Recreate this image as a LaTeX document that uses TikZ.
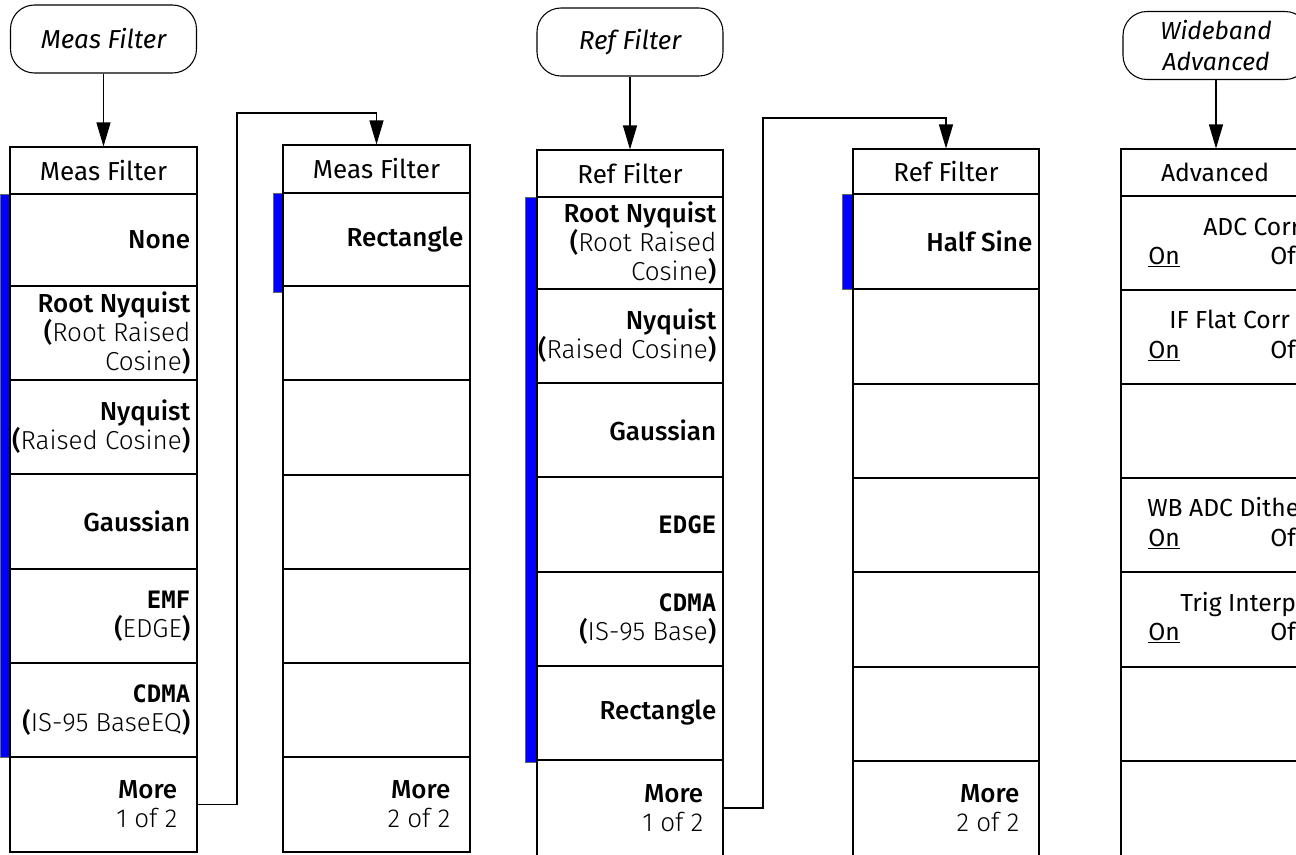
\documentclass[tikz,border=0pt]{standalone}
\usepackage{fontspec}
\setmainfont{Fira Sans}
\newfontfamily\fsl{Fira Sans Light}
\newfontfamily\fsm{Fira Sans Medium}
\newfontfamily\fmono{DejaVu Sans Mono}
\usetikzlibrary{arrows.meta,fit}

\newcommand\ltxt[1]{{\fsl #1}}
\newcommand\mtxt[1]{{\fmono\bfseries\fontsize{18}{21.75}\selectfont #1}}
\newcommand\mkbox[5]{\node[keybox, fit={(#2,#3)(#4,#5)}] (#1) {};}

\tikzset{
  keybox/.style={draw=black, line width=0.8pt, inner sep=0pt},
  bluebar/.style={draw=black!60, line width=0.5pt, fill=blue},
  term/.style={draw=black, line width=0.8pt, rounded corners=18pt, inner sep=0pt,
               minimum width=139.5pt, minimum height=51pt, align=center},
  lbl/.style={font=\fsm\fontsize{19.5}{21.75}\selectfont, align=right, inner sep=0pt},
  ttl/.style={font=\fontsize{19.5}{21.75}\selectfont, inner sep=0pt},
  albl/.style={font=\fontsize{18.5}{21.75}\selectfont, inner sep=0pt},
  conn/.style={line width=0.8pt},
  arr/.style={conn, -{Triangle[length=18pt,width=10.5pt]}},
}

\begin{document}
\begin{tikzpicture}[x=0.75pt,y=-0.75pt]
\useasboundingbox (0,0) rectangle (1296,854);
\clip (0,0) rectangle (1296,854);

% blue selection bars
\draw[bluebar] (0,194) rectangle (10,757);
\draw[bluebar] (273,193) rectangle (283,292);
\draw[bluebar] (525,197) rectangle (537,762);
\draw[bluebar] (842,194) rectangle (853,289);

% ---------- column 1 : Meas Filter 1 of 2
\node[term, font=\itshape\fontsize{19.5}{21.75}\selectfont] (mf) at (103.5,39) {Meas Filter};
\mkbox{m1t}{10}{147}{197}{194}
\mkbox{m1a}{10}{194}{197}{286}
\mkbox{m1b}{10}{286}{197}{380}
\mkbox{m1c}{10}{380}{197}{474}
\mkbox{m1d}{10}{474}{197}{569}
\mkbox{m1e}{10}{569}{197}{663}
\mkbox{m1f}{10}{663}{197}{757}
\mkbox{m1g}{10}{757}{197}{852}
\node[ttl] (m1tl) at (m1t) {Meas Filter};
\node[lbl, anchor=east] (m1al) at ([xshift=-5.25pt]m1a.east) {None};
\node[lbl, anchor=east] (m1bl) at ([xshift=-5.25pt]m1b.east) {Root Nyquist\\(\ltxt{Root Raised}\\\ltxt{Cosine})};
\node[lbl, anchor=east] (m1cl) at ([xshift=-5.25pt]m1c.east) {Nyquist\\(\ltxt{Raised Cosine})};
\node[lbl, anchor=east] (m1dl) at ([xshift=-5.25pt]m1d.east) {Gaussian};
\node[lbl, anchor=east] (m1el) at ([xshift=-5.25pt]m1e.east) {\mtxt{EMF}\\(\ltxt{EDGE})};
\node[lbl, anchor=east] (m1fl) at ([xshift=-5.25pt]m1f.east) {\mtxt{CDMA}\\(\ltxt{IS-95 BaseEQ})};
\node[lbl, anchor=east] (m1gl) at ([xshift=-15pt]m1g.east) {More\\\ltxt{1 of 2}};

% ---------- column 2 : Meas Filter 2 of 2
\mkbox{m2t}{283}{145}{470}{193}
\mkbox{m2a}{283}{193}{470}{286}
\mkbox{m2b}{283}{286}{470}{380}
\mkbox{m2c}{283}{380}{470}{475}
\mkbox{m2d}{283}{475}{470}{569}
\mkbox{m2e}{283}{569}{470}{663}
\mkbox{m2f}{283}{663}{470}{757}
\mkbox{m2g}{283}{757}{470}{852}
\node[ttl] (m2tl) at (m2t) {Meas Filter};
\node[lbl, anchor=east] (m2al) at ([xshift=-5.25pt]m2a.east) {Rectangle};
\node[lbl, anchor=east] (m2gl) at ([xshift=-15pt]m2g.east) {More\\\ltxt{2 of 2}};

% ---------- column 3 : Ref Filter 1 of 2
\node[term, font=\itshape\fontsize{19.5}{21.75}\selectfont] (rf) at (630,42) {Ref Filter};
\mkbox{r1t}{537}{150}{723}{197}
\mkbox{r1a}{537}{197}{723}{289}
\mkbox{r1b}{537}{289}{723}{383}
\mkbox{r1c}{537}{383}{723}{477}
\mkbox{r1d}{537}{477}{723}{572}
\mkbox{r1e}{537}{572}{723}{666}
\mkbox{r1f}{537}{666}{723}{760}
\mkbox{r1g}{537}{760}{723}{856}
\node[ttl] (r1tl) at (r1t) {Ref Filter};
\node[lbl, anchor=east] (r1al) at ([xshift=-5.25pt]r1a.east) {Root Nyquist\\(\ltxt{Root Raised}\\\ltxt{Cosine})};
\node[lbl, anchor=east] (r1bl) at ([xshift=-5.25pt]r1b.east) {Nyquist\\(\ltxt{Raised Cosine})};
\node[lbl, anchor=east] (r1cl) at ([xshift=-5.25pt]r1c.east) {Gaussian};
\node[lbl, anchor=east] (r1dl) at ([xshift=-5.25pt]r1d.east) {\mtxt{EDGE}};
\node[lbl, anchor=east] (r1el) at ([xshift=-5.25pt]r1e.east) {\mtxt{CDMA}\\(\ltxt{IS-95 Base})};
\node[lbl, anchor=east] (r1fl) at ([xshift=-5.25pt]r1f.east) {Rectangle};
\node[lbl, anchor=east] (r1gl) at ([xshift=-15pt]r1g.east) {More\\\ltxt{1 of 2}};

% ---------- column 4 : Ref Filter 2 of 2
\mkbox{r2t}{853}{149}{1039}{194}
\mkbox{r2a}{853}{194}{1039}{289}
\mkbox{r2b}{853}{289}{1039}{384}
\mkbox{r2c}{853}{384}{1039}{478}
\mkbox{r2d}{853}{478}{1039}{572}
\mkbox{r2e}{853}{572}{1039}{667}
\mkbox{r2f}{853}{667}{1039}{761}
\mkbox{r2g}{853}{761}{1039}{856}
\node[ttl] (r2tl) at (r2t) {Ref Filter};
\node[lbl, anchor=east] (r2al) at ([xshift=-5.25pt]r2a.east) {Half Sine};
\node[lbl, anchor=east] (r2gl) at ([xshift=-15pt]r2g.east) {More\\\ltxt{2 of 2}};

% ---------- column 5 : Advanced
\node[term, font=\itshape\fontsize{18.5}{23}\selectfont] (wa) at (1216,45.5) {Wideband\\Advanced};
\mkbox{a1t}{1121}{149}{1309}{196}
\mkbox{a1a}{1121}{196}{1309}{290}
\mkbox{a1b}{1121}{290}{1309}{384}
\mkbox{a1c}{1121}{384}{1309}{478}
\mkbox{a1d}{1121}{478}{1309}{572}
\mkbox{a1e}{1121}{572}{1309}{667}
\mkbox{a1f}{1121}{667}{1309}{761}
\mkbox{a1g}{1121}{761}{1309}{856}
\node[albl] (a1tl) at (a1t) {Advanced};
\node[albl, anchor=base west] (adc) at (1203,235) {ADC Corr};
\node[albl, anchor=base west] (adcon) at (1148,264) {\underline{On}};
\node[albl, anchor=base west] (adcoff) at (1270,264) {Off};
\node[albl, anchor=base west] (iff) at (1169,328) {IF Flat Corr};
\node[albl, anchor=base west] (iffon) at (1148,358) {\underline{On}};
\node[albl, anchor=base west] (iffoff) at (1270,358) {Off};
\node[albl, anchor=base west] (wbd) at (1147,516) {WB ADC Dither};
\node[albl, anchor=base west] (wbdon) at (1148,546) {\underline{On}};
\node[albl, anchor=base west] (wbdoff) at (1270,546) {Off};
\node[albl, anchor=base west] (trg) at (1180,611) {Trig Interp};
\node[albl, anchor=base west] (trgon) at (1148,640) {\underline{On}};
\node[albl, anchor=base west] (trgoff) at (1270,640) {Off};

% ---------- connectors
\draw[arr] (mf.south) -- (mf.south |- m1t.north);
\draw[arr] (rf.south) -- (rf.south |- r1t.north);
\draw[arr] (wa.south) -- (wa.south |- a1t.north);

\coordinate (j1) at (237,113);
\draw[arr] (m1g.east) -| (j1) -| (m2t.north);
\coordinate (j2) at (763,118);
\draw[arr] (r1g.east) -| (j2) -| (r2t.north);
\end{tikzpicture}
\end{document}
